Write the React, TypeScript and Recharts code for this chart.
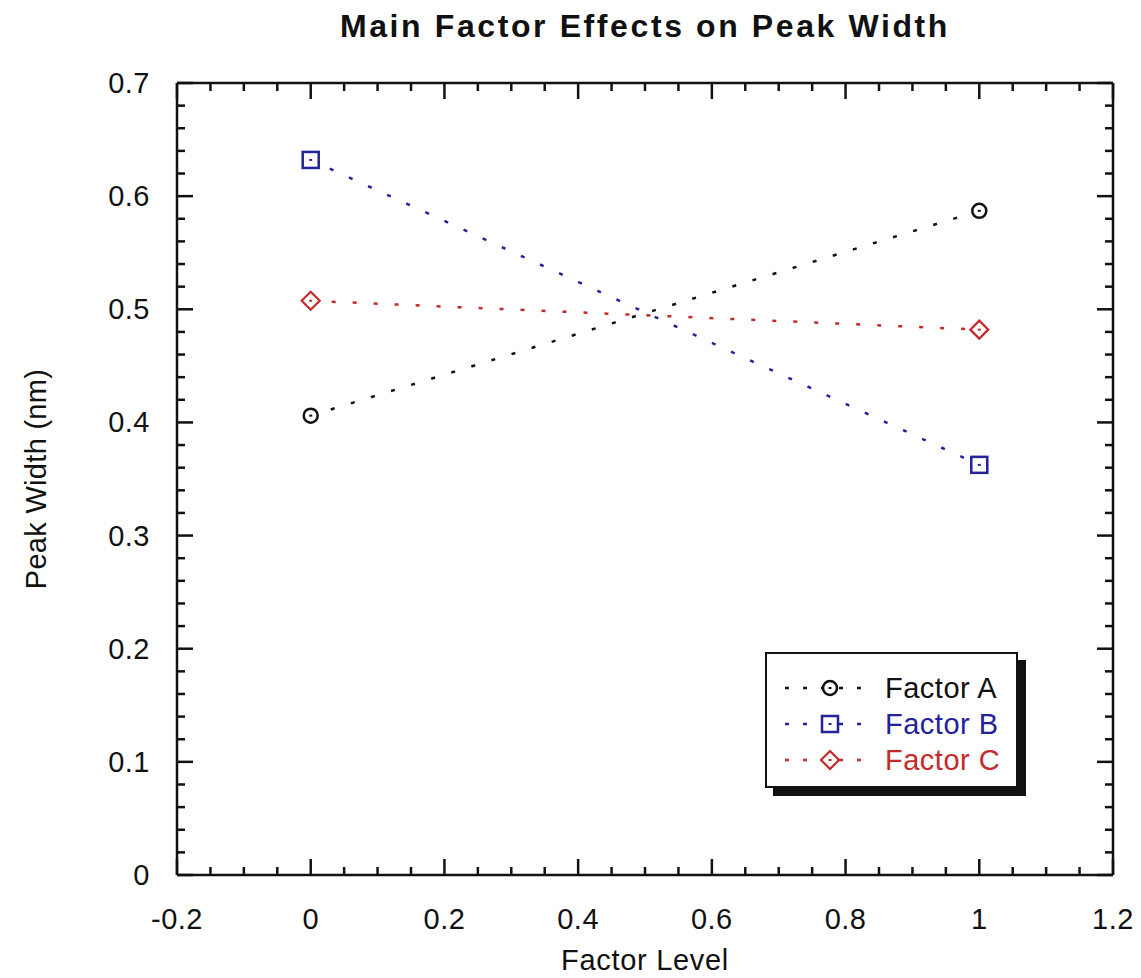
import { LineChart, Line, XAxis, YAxis, Legend } from 'recharts';

const levels = [0, 1];
const factorA = [0.406, 0.587];
const factorB = [0.632, 0.3625];
const factorC = [0.5075, 0.482];

const xMajor = [-0.2, 0, 0.2, 0.4, 0.6, 0.8, 1, 1.2];
const xLabels = ['-0.2', '0', '0.2', '0.4', '0.6', '0.8', '1', '1.2'];
const yMajor = [0, 0.1, 0.2, 0.3, 0.4, 0.5, 0.6, 0.7];
const yLabels = ['0', '0.1', '0.2', '0.3', '0.4', '0.5', '0.6', '0.7'];

const FONT = '"Liberation Sans", Arial, sans-serif';
const BLACK = '#111111';
const BLUE = '#22229a';
const RED = '#c42a2a';

const data = levels.map((x, i) => ({ x, a: factorA[i], b: factorB[i], c: factorC[i] }));

// minor ticks between the labelled ones
function withMinor(major: number[], parts: number) {
  const out: number[] = [];
  major.forEach((v, i) => {
    if (i === major.length - 1) {
      out.push(v);
      return;
    }
    const step = (major[i + 1] - v) / parts;
    for (let k = 0; k < parts; k++) out.push(Math.round((v + k * step) * 10000) / 10000);
  });
  return out;
}

const xTicks = withMinor(xMajor, 4);
const yTicks = withMinor(yMajor, 5);

const majorIndex = (list: number[], v: number) => list.findIndex((m) => Math.abs(m - v) < 1e-6);

const MAJOR_LEN = 16;
const MINOR_LEN = 8;
const TICK_W = 2.5;

function BottomTick({ x, y, payload }: any) {
  const idx = majorIndex(xMajor, payload.value);
  const len = idx >= 0 ? MAJOR_LEN : MINOR_LEN;
  return (
    <g>
      <line x1={x} x2={x} y1={y} y2={y - len} stroke={BLACK} strokeWidth={TICK_W} />
      {idx >= 0 && (
        <text x={x} y={y + 54} textAnchor="middle" fontSize={29} fontFamily={FONT} fill={BLACK} letterSpacing={0.5}>
          {xLabels[idx]}
        </text>
      )}
    </g>
  );
}

function TopTick({ x, y, payload }: any) {
  const len = majorIndex(xMajor, payload.value) >= 0 ? MAJOR_LEN : MINOR_LEN;
  return <line x1={x} x2={x} y1={y} y2={y + len} stroke={BLACK} strokeWidth={TICK_W} />;
}

function LeftTick({ x, y, payload }: any) {
  const idx = majorIndex(yMajor, payload.value);
  const len = idx >= 0 ? MAJOR_LEN : MINOR_LEN;
  return (
    <g>
      <line x1={x} x2={x + len} y1={y} y2={y} stroke={BLACK} strokeWidth={TICK_W} />
      {idx >= 0 && (
        <text x={x - 27} y={y + 10} textAnchor="end" fontSize={29} fontFamily={FONT} fill={BLACK} letterSpacing={0.5}>
          {yLabels[idx]}
        </text>
      )}
    </g>
  );
}

function RightTick({ x, y, payload }: any) {
  const len = majorIndex(yMajor, payload.value) >= 0 ? MAJOR_LEN : MINOR_LEN;
  return <line x1={x} x2={x - len} y1={y} y2={y} stroke={BLACK} strokeWidth={TICK_W} />;
}

function Marker({ kind, cx, cy, color }: { kind: string; cx: number; cy: number; color: string }) {
  let shape;
  if (kind === 'circle') {
    shape = <circle cx={cx} cy={cy} r={7} fill="#fff" stroke={color} strokeWidth={2.5} />;
  } else if (kind === 'square') {
    shape = <rect x={cx - 8} y={cy - 8} width={16} height={16} fill="#fff" stroke={color} strokeWidth={2.5} />;
  } else {
    shape = (
      <polygon
        points={`${cx},${cy - 9} ${cx + 9},${cy} ${cx},${cy + 9} ${cx - 9},${cy}`}
        fill="#fff"
        stroke={color}
        strokeWidth={2.2}
      />
    );
  }
  return (
    <g>
      {shape}
      <rect x={cx - 1.5} y={cy - 1} width={3} height={2} fill={color} />
    </g>
  );
}

const dotFor = (kind: string, color: string) => (props: any) =>
  <Marker key={`${kind}-${props.index}`} kind={kind} cx={props.cx} cy={props.cy} color={color} />;

const legendItems = [
  { name: 'Factor A', kind: 'circle', color: BLACK },
  { name: 'Factor B', kind: 'square', color: BLUE },
  { name: 'Factor C', kind: 'diamond', color: RED },
];

function LegendBox() {
  return (
    <div
      style={{
        width: 253,
        height: 136,
        border: `2px solid ${BLACK}`,
        background: '#fff',
        boxShadow: `8px 8px 0 ${BLACK}`,
        paddingTop: 16,
        boxSizing: 'border-box',
      }}
    >
      {legendItems.map((item) => (
        <div key={item.name} style={{ display: 'flex', alignItems: 'center', height: 36 }}>
          <svg width={118} height={30} style={{ flexShrink: 0 }}>
            <line x1={18} x2={108} y1={15} y2={15} stroke={item.color} strokeWidth={2.5} strokeDasharray="4 14" />
            <Marker kind={item.kind} cx={63} cy={15} color={item.color} />
          </svg>
          <span style={{ fontFamily: FONT, fontSize: 29, color: item.color, letterSpacing: 0.5 }}>{item.name}</span>
        </div>
      ))}
    </div>
  );
}

export default function App() {
  return (
    <div style={{ position: 'absolute', left: 0, top: 0, width: 1141, height: 978, background: '#fff' }}>
      <div
        style={{
          position: 'absolute',
          left: 177,
          width: 936,
          top: 8,
          textAlign: 'center',
          fontFamily: FONT,
          fontWeight: 'bold',
          fontSize: 32,
          letterSpacing: 2.6,
          color: BLACK,
        }}
      >
        Main Factor Effects on Peak Width
      </div>
      <LineChart width={1141} height={978} data={data} margin={{ top: 82, right: 27, bottom: 43, left: 117 }}>
        <XAxis
          dataKey="x"
          type="number"
          domain={[-0.2, 1.2]}
          ticks={xTicks}
          interval={0}
          tick={BottomTick}
          tickLine={false}
          tickSize={0}
          tickMargin={0}
          height={60}
          axisLine={{ stroke: BLACK, strokeWidth: 2.5 }}
          allowDataOverflow
        />
        <XAxis
          xAxisId="top"
          dataKey="x"
          type="number"
          orientation="top"
          domain={[-0.2, 1.2]}
          ticks={xTicks}
          interval={0}
          tick={TopTick}
          tickLine={false}
          tickSize={0}
          tickMargin={0}
          height={1}
          axisLine={{ stroke: BLACK, strokeWidth: 2.5 }}
          allowDataOverflow
        />
        <YAxis
          type="number"
          domain={[0, 0.7]}
          ticks={yTicks}
          interval={0}
          tick={LeftTick}
          tickLine={false}
          tickSize={0}
          tickMargin={0}
          width={60}
          axisLine={{ stroke: BLACK, strokeWidth: 2.5 }}
          allowDataOverflow
        />
        <YAxis
          yAxisId="right"
          type="number"
          orientation="right"
          domain={[0, 0.7]}
          ticks={yTicks}
          interval={0}
          tick={RightTick}
          tickLine={false}
          tickSize={0}
          tickMargin={0}
          width={1}
          axisLine={{ stroke: BLACK, strokeWidth: 2.5 }}
          allowDataOverflow
        />
        <Legend
          layout="vertical"
          align="center"
          verticalAlign="middle"
          content={LegendBox}
          wrapperStyle={{ position: 'absolute', left: 765, top: 652, width: 253, height: 136 }}
        />
        <Line
          dataKey="a"
          name="Factor A"
          type="linear"
          stroke={BLACK}
          strokeWidth={2.5}
          strokeDasharray="4 17"
          dot={dotFor('circle', BLACK)}
          activeDot={false}
          isAnimationActive={false}
        />
        <Line
          dataKey="b"
          name="Factor B"
          type="linear"
          stroke={BLUE}
          strokeWidth={2.5}
          strokeDasharray="4 17"
          dot={dotFor('square', BLUE)}
          activeDot={false}
          isAnimationActive={false}
        />
        <Line
          dataKey="c"
          name="Factor C"
          type="linear"
          stroke={RED}
          strokeWidth={2.5}
          strokeDasharray="4 17"
          dot={dotFor('diamond', RED)}
          activeDot={false}
          isAnimationActive={false}
        />
      </LineChart>
      <div
        style={{
          position: 'absolute',
          left: 177,
          width: 936,
          top: 944,
          textAlign: 'center',
          fontFamily: FONT,
          fontSize: 29,
          letterSpacing: 0.7,
          color: BLACK,
        }}
      >
        Factor Level
      </div>
      <div
        style={{
          position: 'absolute',
          left: 36,
          top: 479,
          transform: 'translate(-50%, -50%) rotate(-90deg)',
          whiteSpace: 'nowrap',
          fontFamily: FONT,
          fontSize: 29,
          letterSpacing: 0.3,
          color: BLACK,
        }}
      >
        Peak Width (nm)
      </div>
    </div>
  );
}
